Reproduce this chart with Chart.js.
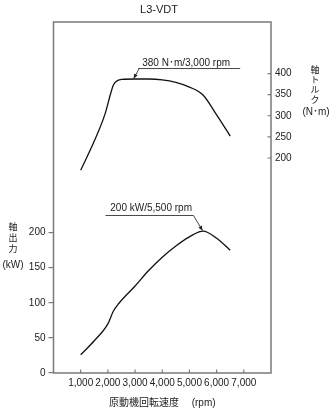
<!DOCTYPE html>
<html><head><meta charset="utf-8">
<script src="https://cdn.jsdelivr.net/npm/chart.js@4.4.1/dist/chart.umd.min.js"></script>
<style>html,body{margin:0;padding:0;background:#fff}canvas{display:block}</style>
</head><body>
<canvas id="c" width="333" height="409"></canvas>
<script>
// ---- data ----
const torqueRpm = [1000, 1500, 1900, 2100, 2200, 2300, 2500, 3000, 3500, 4000, 4500, 5000, 5500, 6000, 6500];
const torqueNm  = [171, 240, 305, 352, 372, 381, 386, 387, 387, 385, 379, 368, 349, 302, 252];
const powerRpm  = [1000, 1500, 2000, 2200, 2400, 3000, 3500, 4000, 4500, 5000, 5500, 6000, 6500];
const powerKw   = [26, 46, 70, 88, 99, 124, 146, 165, 181, 194, 202, 192, 175];
const rpmTicks  = [1000, 2000, 3000, 4000, 5000, 6000, 7000];
const kwTicks   = [0, 50, 100, 150, 200];
const nmTicks   = [200, 250, 300, 350, 400];
const chartTitle = 'L3-VDT';
const xTitle = '原動機回転速度　 (rpm)';
const kwTitle = ['軸', '出', '力', '(kW)'];
const nmTitle = ['軸', 'ト', 'ル', 'ク', '(N･m)'];
const torqueNote = {text: '380 N･m/3,000 rpm', rpm: 2950, value: 387};
const powerNote  = {text: '200 kW/5,500 rpm', rpm: 5480, value: 203};

const FONT = "'Liberation Sans', Arial, 'Noto Sans CJK JP', sans-serif";
const TXT = '#222';
const AX = '#7a7a7a';

function arrow(ctx, x1, y1, x2, y2) {
  ctx.beginPath(); ctx.moveTo(x1, y1); ctx.lineTo(x2, y2); ctx.stroke();
  const ang = Math.atan2(y2 - y1, x2 - x1), L = 4.5, W = 2;
  ctx.beginPath();
  ctx.moveTo(x2, y2);
  ctx.lineTo(x2 - L * Math.cos(ang) + W * Math.sin(ang), y2 - L * Math.sin(ang) - W * Math.cos(ang));
  ctx.lineTo(x2 - L * Math.cos(ang) - W * Math.sin(ang), y2 - L * Math.sin(ang) + W * Math.cos(ang));
  ctx.closePath(); ctx.fill();
}

const deco = {
  id: 'deco',
  beforeDatasetsDraw(chart) {
    const {ctx, chartArea: a, scales} = chart;
    ctx.save();
    ctx.strokeStyle = AX; ctx.lineWidth = 1.5;
    ctx.strokeRect(a.left, a.top, a.right - a.left, a.bottom - a.top);
    ctx.lineWidth = 1.2;
    ctx.beginPath();
    scales.x.ticks.forEach(t => {
      const px = scales.x.getPixelForValue(t.value);
      ctx.moveTo(px, a.bottom); ctx.lineTo(px, a.bottom - 3.5);
    });
    scales.yT.ticks.forEach(t => {
      const py = scales.yT.getPixelForValue(t.value);
      ctx.moveTo(a.right, py); ctx.lineTo(a.right - 3.5, py);
    });
    ctx.stroke();
    ctx.restore();
  },
  afterDatasetsDraw(chart) {
    const {ctx, scales} = chart;
    ctx.save();
    ctx.fillStyle = TXT; ctx.strokeStyle = '#333'; ctx.lineWidth = 0.9;
    // torque annotation
    let tx = scales.x.getPixelForValue(torqueNote.rpm), ty = scales.yT.getPixelForValue(torqueNote.value);
    let sx = tx + 5.5, sy = ty - 10.5;
    arrow(ctx, sx, sy, tx, ty - 0.5);
    ctx.beginPath(); ctx.moveTo(sx - 1, sy); ctx.lineTo(sx + 101, sy); ctx.stroke();
    ctx.font = '10px ' + FONT; ctx.textBaseline = 'middle'; ctx.textAlign = 'left';
    ctx.fillText(torqueNote.text, sx + 3, sy - 5.5);
    // power annotation
    tx = scales.x.getPixelForValue(powerNote.rpm); ty = scales.yP.getPixelForValue(powerNote.value);
    sx = tx - 9; sy = ty - 15;
    arrow(ctx, sx, sy, tx, ty);
    ctx.beginPath(); ctx.moveTo(sx - 88, sy); ctx.lineTo(sx, sy); ctx.stroke();
    ctx.textAlign = 'right';
    ctx.fillText(powerNote.text, sx - 1.5, sy - 7.5);
    // chart title
    ctx.textAlign = 'center';
    ctx.font = '11px ' + FONT;
    ctx.fillText(chartTitle, 159, 10);
    // stacked axis titles
    const ly = [227.5, 238.5, 249.5, 265];
    kwTitle.forEach((s, i) => {
      ctx.font = (i < 3 ? '9px ' : '10px ') + FONT;
      ctx.fillText(s, 13, ly[i]);
    });
    const ry = [70.5, 80.5, 90.5, 100.5, 112];
    nmTitle.forEach((s, i) => {
      ctx.font = (i < 4 ? '9px ' : '10px ') + FONT;
      ctx.fillText(s, i < 4 ? 315 : 316, ry[i]);
    });
    ctx.restore();
  }
};

const lineStyle = {borderColor: '#111', borderWidth: 1.3, pointRadius: 0, fill: false, cubicInterpolationMode: 'monotone'};

new Chart(document.getElementById('c'), {
  type: 'line',
  data: {
    datasets: [
      Object.assign({label: '軸トルク', yAxisID: 'yT', data: torqueRpm.map((r, i) => ({x: r, y: torqueNm[i]}))}, lineStyle),
      Object.assign({label: '軸出力', yAxisID: 'yP', data: powerRpm.map((r, i) => ({x: r, y: powerKw[i]}))}, lineStyle)
    ]
  },
  options: {
    responsive: false,
    animation: false,
    layout: {padding: {top: 22, left: 0, right: 0, bottom: 0}},
    plugins: {legend: {display: false}, title: {display: false}, tooltip: {enabled: false}},
    scales: {
      x: {
        type: 'linear', min: 0, max: 8000,
        afterBuildTicks: s => { s.ticks = rpmTicks.map(v => ({value: v})); },
        afterFit: s => { s.height = 36; },
        grid: {display: false, drawTicks: false},
        border: {display: false},
        ticks: {padding: 4, color: TXT, font: {family: FONT, size: 10}, maxRotation: 0, autoSkip: false,
                callback: v => v.toLocaleString('en-US')},
        title: {display: true, text: xTitle, color: TXT, font: {family: FONT, size: 10}, padding: {top: 0, bottom: 0}}
      },
      yP: {
        type: 'linear', position: 'left', min: 0, max: 500,
        afterBuildTicks: s => { s.ticks = kwTicks.map(v => ({value: v})); },
        afterFit: s => { s.width = 53.5; },
        grid: {drawOnChartArea: false, drawTicks: true, tickLength: 5, color: AX, lineWidth: 1.2},
        border: {display: false},
        ticks: {padding: 3, color: TXT, font: {family: FONT, size: 10}, autoSkip: false}
      },
      yT: {
        type: 'linear', position: 'right', min: -309, max: 522,
        afterBuildTicks: s => { s.ticks = nmTicks.map(v => ({value: v})); },
        afterFit: s => { s.width = 62; },
        grid: {display: false, drawTicks: false},
        border: {display: false},
        ticks: {padding: 4, color: TXT, font: {family: FONT, size: 10}, autoSkip: false}
      }
    }
  },
  plugins: [deco]
});
</script>
</body></html>
